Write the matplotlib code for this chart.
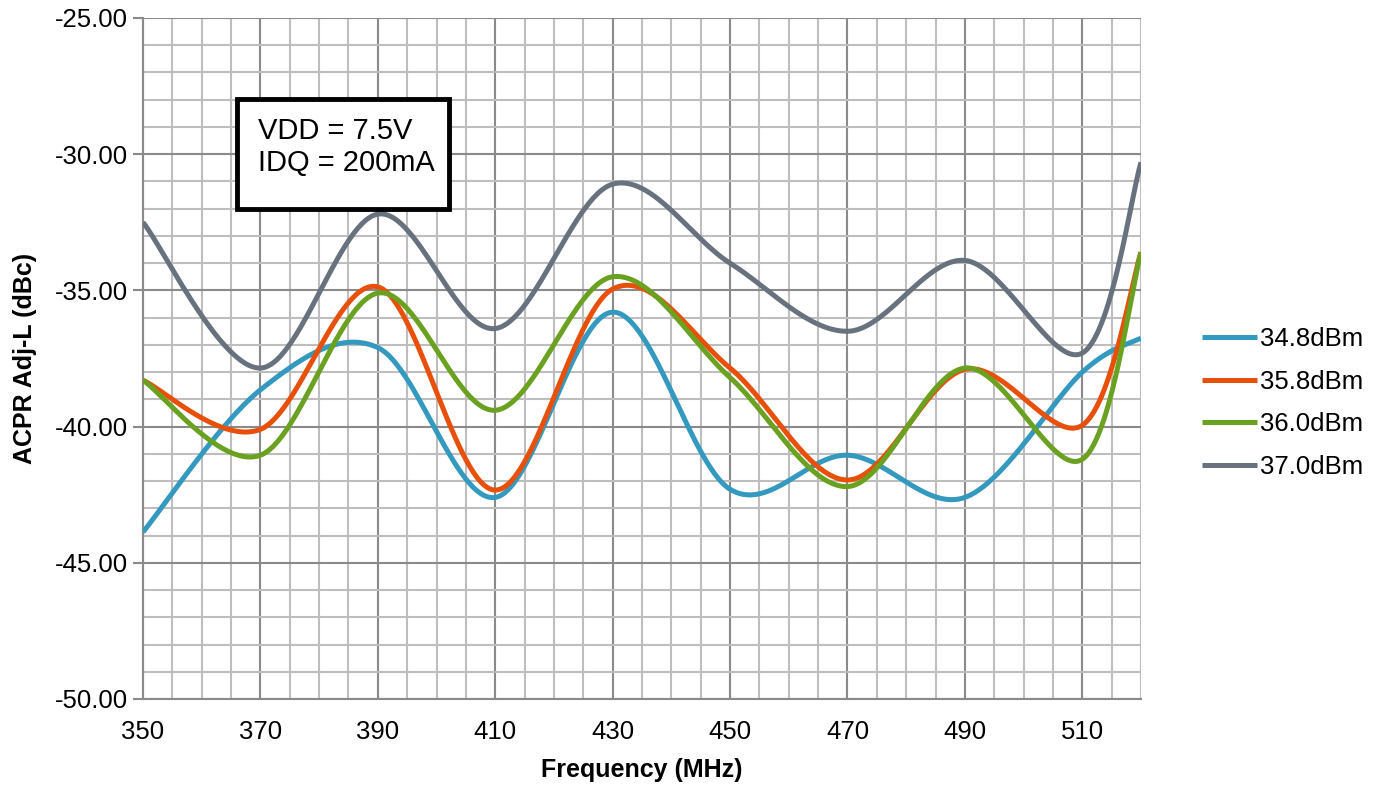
import numpy as np
import matplotlib
matplotlib.use("Agg")
import matplotlib.pyplot as plt
from matplotlib.ticker import MultipleLocator, FixedLocator, FormatStrFormatter
from matplotlib.patches import Rectangle

plt.rcParams['font.family'] = ['Liberation Sans', 'DejaVu Sans']

freq = [350, 370, 390, 410, 430, 450, 470, 490, 510, 520]
s348 = [-43.87, -38.65, -37.1, -42.6, -35.8, -42.3, -41.05, -42.6, -38.0, -36.75]
s358 = [-38.3, -40.1, -34.87, -42.33, -34.95, -37.85, -41.96, -37.9, -39.95, -33.6]
s360 = [-38.3, -41.05, -35.1, -39.4, -34.5, -38.2, -42.2, -37.85, -41.2, -33.6]
s370 = [-32.5, -37.85, -32.2, -36.4, -31.1, -34.0, -36.5, -33.9, -37.3, -30.3]

labels = ['34.8dBm', '35.8dBm', '36.0dBm', '37.0dBm']
colors = ['#3399BF', '#E8500A', '#6AA121', '#68727E']
xticks = [350, 370, 390, 410, 430, 450, 470, 490, 510]


def smooth(x, y, n=60):
    """Excel-style smoothed line (Catmull-Rom Bezier) through the data points."""
    x = np.asarray(x, float)
    y = np.asarray(y, float)
    px = np.concatenate([[x[0]], x, [x[-1]]])
    py = np.concatenate([[y[0]], y, [y[-1]]])
    xs, ys = [], []
    t = np.linspace(0, 1, n)
    for i in range(1, len(px) - 2):
        p0 = np.array([px[i], py[i]])
        p3 = np.array([px[i + 1], py[i + 1]])
        c1 = p0 + (np.array([px[i + 1], py[i + 1]]) - np.array([px[i - 1], py[i - 1]])) / 6
        c2 = p3 - (np.array([px[i + 2], py[i + 2]]) - np.array([px[i], py[i]])) / 6
        b = ((1 - t) ** 3)[:, None] * p0 + (3 * (1 - t) ** 2 * t)[:, None] * c1 \
            + (3 * (1 - t) * t ** 2)[:, None] * c2 + (t ** 3)[:, None] * p3
        xs.append(b[:, 0])
        ys.append(b[:, 1])
    return np.concatenate(xs), np.concatenate(ys)


W, H = 1373, 786
fig = plt.figure(figsize=(W / 100, H / 100), dpi=100)
ax = fig.add_axes([143 / W, 1 - 699 / H, (1141 - 143) / W, (699 - 18) / H])

for ser, lab, col in zip([s348, s358, s360, s370], labels, colors):
    sx, sy = smooth(freq, ser)
    ax.plot(sx, sy, color=col, lw=3.6, label=lab, solid_capstyle='butt', zorder=3)

ax.set_xlim(350, 520)
ax.set_ylim(-50, -25)
ax.xaxis.set_major_locator(FixedLocator(xticks))
ax.xaxis.set_minor_locator(MultipleLocator(5))
ax.yaxis.set_major_locator(MultipleLocator(5))
ax.yaxis.set_minor_locator(MultipleLocator(1))
ax.yaxis.set_major_formatter(FormatStrFormatter('%.2f'))

ax.grid(which='minor', color='#BEBEBE', lw=1.5, zorder=0)
ax.grid(which='major', color='#8A8A8A', lw=1.5, zorder=1)
ax.set_axisbelow(True)

for sp in ['top', 'right']:
    ax.spines[sp].set_visible(False)
for sp in ['left', 'bottom']:
    ax.spines[sp].set_color('#8A8A8A')
    ax.spines[sp].set_linewidth(1.5)

ax.tick_params(axis='x', which='both', length=0, labelsize=18.5, pad=15, colors='black')
ax.tick_params(axis='y', which='major', length=7, width=1.5, color='#8A8A8A', labelsize=18.5, pad=4, labelcolor='black')
ax.tick_params(axis='y', which='minor', length=0)

ax.set_xlabel('Frequency (MHz)', fontsize=18, fontweight='bold', labelpad=10)
ax.set_ylabel('ACPR Adj-L (dBc)', fontsize=18, fontweight='bold', labelpad=13)

fig.patches.append(Rectangle((237 / W, 1 - 209 / H), (449 - 237) / W, (209 - 99) / H,
                             transform=fig.transFigure, fc='white', ec='black', lw=3.5, zorder=5))
fig.text(258 / W, 1 - 147 / H, 'VDD = 7.5V\nIDQ = 200mA', fontsize=21,
         va='center', ha='left', linespacing=1.2, zorder=6)

fig.legend(loc='center left', bbox_to_anchor=(1202 / W, 1 - 403 / H), frameon=False,
           fontsize=18.5, handlelength=2.15, handletextpad=0.1, labelspacing=0.72,
           borderaxespad=0, borderpad=0)

fig.savefig('out.png', dpi=100)
